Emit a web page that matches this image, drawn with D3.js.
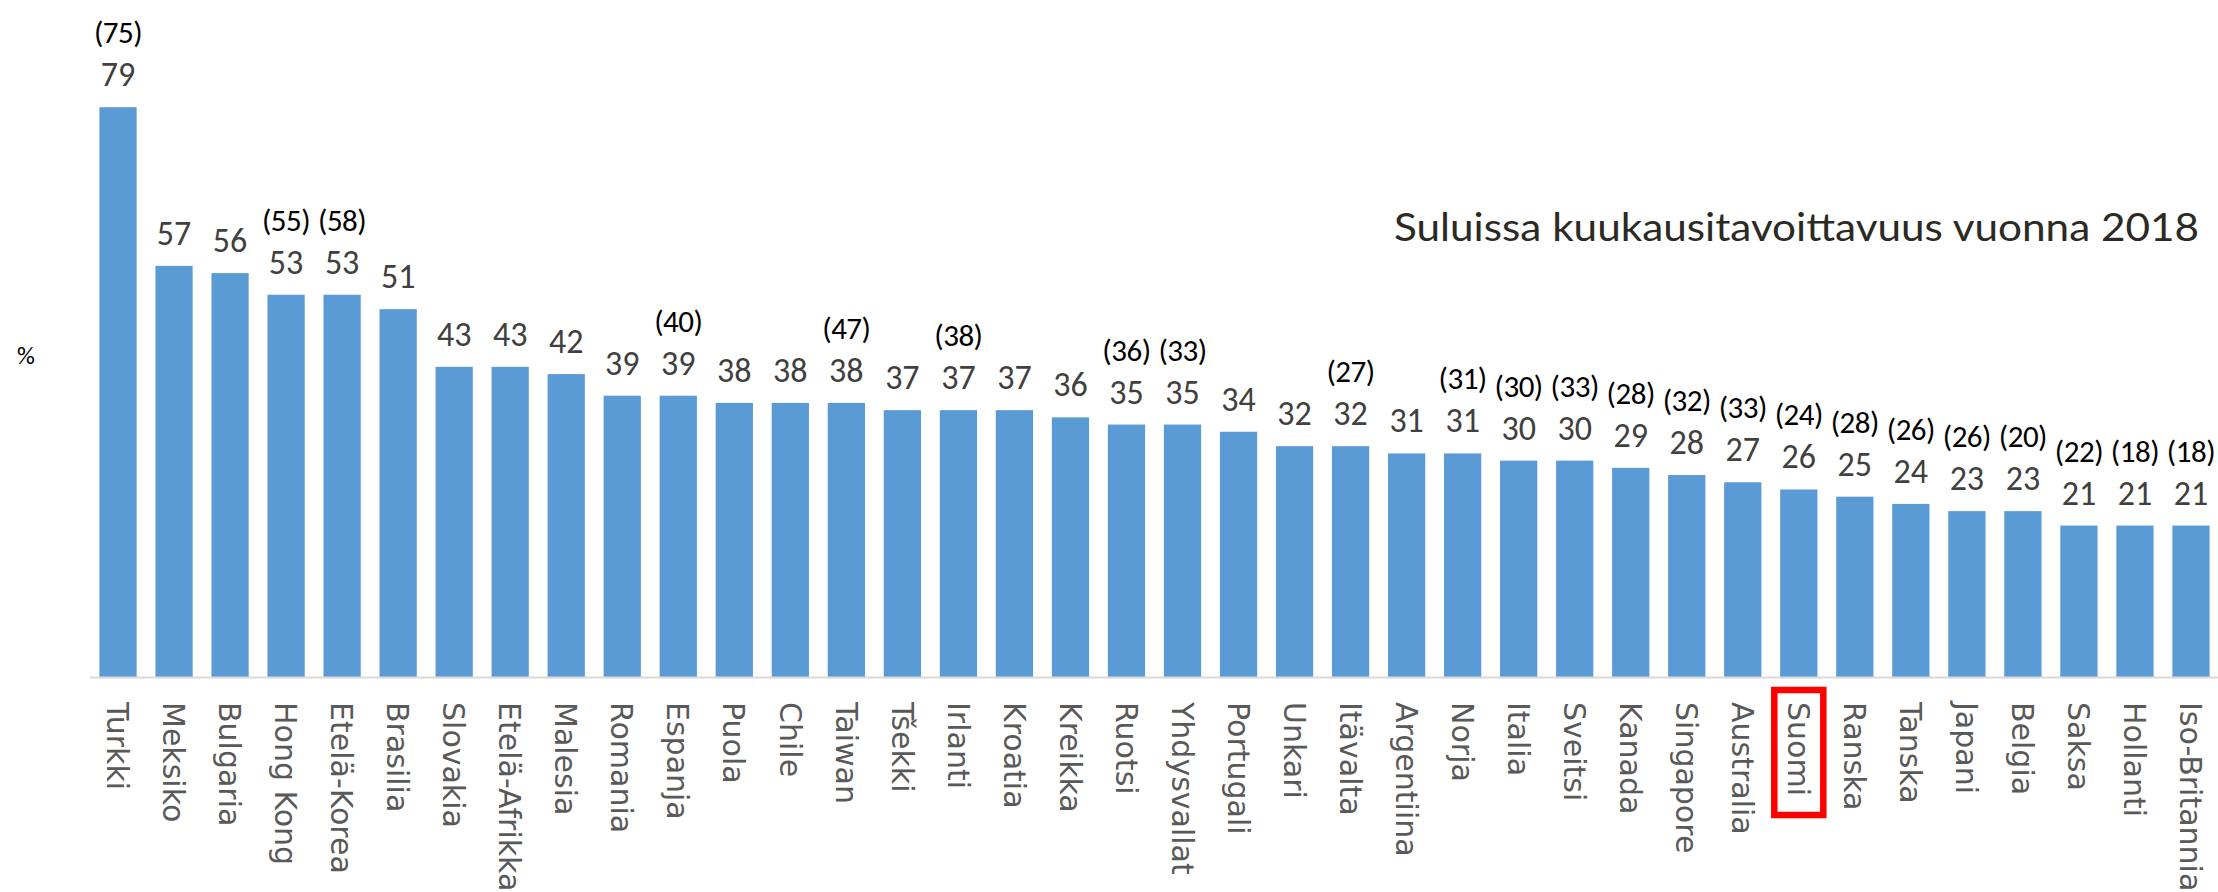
<!DOCTYPE html>
<html lang="fi">
<head>
<meta charset="utf-8">
<script src="https://cdn.jsdelivr.net/npm/d3@7/dist/d3.min.js"></script>
<style>
  html, body { margin: 0; padding: 0; background: #ffffff; }
  svg { display: block; }
  .val  { font-family: Carlito, Lato, "Liberation Sans", sans-serif; fill: #404040; }
  .prev { font-family: Carlito, Lato, "Liberation Sans", sans-serif; fill: #000000; }
  .cat  { font-family: "DejaVu Sans", Verdana, sans-serif; fill: #595959; }
</style>
</head>
<body>
<svg id="chart" width="2218" height="892"></svg>
<script>
// Countries, in descending order of reach
const categories = [
  "Turkki", "Meksiko", "Bulgaria", "Hong Kong", "Etelä-Korea", "Brasilia",
  "Slovakia", "Etelä-Afrikka", "Malesia", "Romania", "Espanja", "Puola",
  "Chile", "Taiwan", "Tšekki", "Irlanti", "Kroatia", "Kreikka", "Ruotsi",
  "Yhdysvallat", "Portugali", "Unkari", "Itävalta", "Argentiina", "Norja",
  "Italia", "Sveitsi", "Kanada", "Singapore", "Australia", "Suomi", "Ranska",
  "Tanska", "Japani", "Belgia", "Saksa", "Hollanti", "Iso-Britannia"
];

// Current values (%)
const values = [
  79, 57, 56, 53, 53, 51, 43, 43, 42, 39, 39, 38, 38, 38, 37, 37, 37, 36, 35,
  35, 34, 32, 32, 31, 31, 30, 30, 29, 28, 27, 26, 25, 24, 23, 23, 21, 21, 21
];

// Monthly reach in 2018 (shown in brackets), null where not reported
const values2018 = [
  75, null, null, 55, 58, null, null, null, null, null, 40, null, null, 47,
  null, 38, null, null, 36, 33, null, null, 27, null, 31, 30, 33, 28, 32, 33,
  24, 28, 26, 26, 20, 22, 18, 18
];

const highlighted = "Suomi";
const titleText = "Suluissa kuukausitavoittavuus vuonna 2018";
const unitLabel = "%";

const rows = categories.map((c, i) => ({ name: c, value: values[i], prev: values2018[i] }));

const svg = d3.select("#chart");

const x = d3.scaleBand()
  .domain(categories)
  .range([90, 2219])
  .paddingInner(0.335)
  .paddingOuter(0.1675);

const y = d3.scaleLinear()
  .domain([0, 80])
  .range([677, 100]);

// Bars
svg.append("g")
  .selectAll("rect")
  .data(rows)
  .join("rect")
  .attr("x", d => x(d.name))
  .attr("y", d => y(d.value))
  .attr("width", x.bandwidth())
  .attr("height", d => y(0) - y(d.value))
  .attr("fill", "#5b9bd5");

// Category axis line
svg.append("line")
  .attr("x1", x.range()[0])
  .attr("x2", x.range()[1])
  .attr("y1", y(0) + 0.5)
  .attr("y2", y(0) + 0.5)
  .attr("stroke", "#d9d9d9")
  .attr("stroke-width", 2);

// Value labels
svg.append("g")
  .selectAll("text")
  .data(rows)
  .join("text")
  .attr("class", "val")
  .attr("x", d => x(d.name) + x.bandwidth() / 2)
  .attr("y", d => y(d.value) - 21)
  .attr("text-anchor", "middle")
  .attr("font-size", 34)
  .text(d => d.value);

// 2018 values in brackets
svg.append("g")
  .selectAll("text")
  .data(rows.filter(d => d.prev !== null))
  .join("text")
  .attr("class", "prev")
  .attr("x", d => x(d.name) + x.bandwidth() / 2)
  .attr("y", d => y(d.value) - 21 - 43)
  .attr("text-anchor", "middle")
  .attr("font-size", 31)
  .attr("letter-spacing", -0.5)
  .text(d => "(" + d.prev + ")");

// Rotated category labels
const labelTop = 702;
svg.append("g")
  .selectAll("text")
  .data(rows)
  .join("text")
  .attr("class", "cat")
  .attr("transform", d => `translate(${x(d.name) + x.bandwidth() / 2},${labelTop}) rotate(90)`)
  .attr("dy", "0.36em")
  .attr("font-size", 30)
  .text(d => d.name);

// Frame around the highlighted country
const hx = x(highlighted) + x.bandwidth() / 2;
svg.append("rect")
  .attr("x", hx - 24.5)
  .attr("y", 690)
  .attr("width", 49)
  .attr("height", 125)
  .attr("fill", "none")
  .attr("stroke", "#ff0000")
  .attr("stroke-width", 6.5);

// Unit label
svg.append("text")
  .attr("x", 26)
  .attr("y", 364)
  .attr("text-anchor", "middle")
  .attr("font-family", "Carlito, Lato, sans-serif")
  .attr("font-size", 25)
  .attr("fill", "#000000")
  .text(unitLabel);

// Note
svg.append("text")
  .attr("x", 1394)
  .attr("y", 241)
  .attr("font-family", "'Century Gothic', Lato, sans-serif")
  .attr("font-size", 38)
  .attr("fill", "#2b2a24")
  .attr("textLength", 805)
  .attr("lengthAdjust", "spacingAndGlyphs")
  .text(titleText);
</script>
</body>
</html>
